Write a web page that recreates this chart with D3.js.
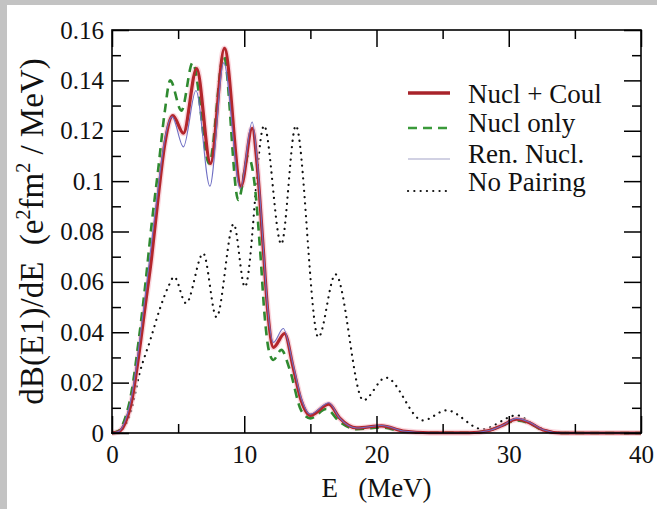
<!DOCTYPE html>
<html>
<head>
<meta charset="utf-8">
<script src="https://cdn.jsdelivr.net/npm/d3@7"></script>
</head>
<body style="margin:0">
<div class="myBox"></div>
<script>

var width = 657;
var height = 509;
var serif = "'Liberation Serif'";

// energies (MeV) and dB/dE values
var nuclCoulE = [0, 0.5, 1, 1.5, 2, 2.5, 3, 3.5, 4, 4.6, 5.4, 6.4, 7.45, 8.5, 9.75, 10.6, 11, 11.4, 11.8, 12.2, 13.05, 13.7, 14.3, 15, 16.4, 17.2, 18.5, 20.4, 22, 24, 27, 28.5, 29.5, 30.6, 31.6, 32.6, 34, 40];
var nuclCoulV = [0, 0.0005, 0.004, 0.013, 0.03, 0.05, 0.07, 0.094, 0.115, 0.126, 0.119, 0.1447, 0.107, 0.1527, 0.098, 0.121, 0.105, 0.076, 0.047, 0.034, 0.0395, 0.026, 0.013, 0.007, 0.0115, 0.006, 0.002, 0.0028, 0.0008, 0.0001, 0.0001, 0.001, 0.003, 0.0055, 0.004, 0.0012, 0, 0];

var nuclOnlyE = [0, 0.5, 1, 1.5, 2, 2.5, 3, 3.5, 4, 4.4, 5.25, 6.1, 7.35, 8.45, 9.55, 10.3, 10.8, 11.2, 11.55, 11.85, 12.2, 12.8, 13.45, 14.3, 15, 16.2, 17.2, 18.5, 20.3, 22, 24, 27, 28.5, 29.5, 30.6, 31.6, 32.6, 34, 40];
var nuclOnlyV = [0, 0.0008, 0.006, 0.017, 0.036, 0.058, 0.083, 0.105, 0.128, 0.14, 0.128, 0.147, 0.107, 0.15, 0.0925, 0.1097, 0.098, 0.0726, 0.046, 0.033, 0.029, 0.033, 0.025, 0.009, 0.0058, 0.0095, 0.0045, 0.0015, 0.0022, 0.0006, 0.0001, 0.0001, 0.001, 0.003, 0.005, 0.0038, 0.001, 0, 0];

var renNuclE = [0, 0.5, 1, 1.5, 2, 2.5, 3, 3.5, 4, 4.55, 5.4, 6.35, 7.4, 8.45, 9.7, 10.6, 11, 11.4, 11.8, 12.2, 12.95, 13.7, 14.3, 15, 16.4, 17.2, 18.5, 20.4, 22, 24, 27, 28.5, 29.5, 30.6, 31.6, 32.6, 34, 40];
var renNuclV = [0, 0.0006, 0.005, 0.015, 0.033, 0.054, 0.076, 0.098, 0.117, 0.1255, 0.1136, 0.136, 0.098, 0.147, 0.097, 0.1235, 0.107, 0.077, 0.048, 0.036, 0.0415, 0.027, 0.014, 0.0075, 0.012, 0.006, 0.002, 0.003, 0.0008, 0.0001, 0.0001, 0.001, 0.003, 0.0058, 0.0042, 0.0013, 0, 0];

var noPairE = [0, 0.5, 1, 1.4, 2.1, 2.9, 3.6, 4.25, 4.7, 5.6, 6.9, 7.9, 9.2, 10.05, 11.5, 12.8, 13.9, 15.6, 16.9, 19, 20.7, 23.5, 25.3, 28, 30.6, 32, 33.5, 35, 40];
var noPairV = [0, 0.0005, 0.003, 0.008, 0.024, 0.037, 0.049, 0.058, 0.062, 0.0515, 0.0713, 0.046, 0.083, 0.058, 0.122, 0.075, 0.122, 0.038, 0.063, 0.013, 0.022, 0.005, 0.009, 0.0015, 0.007, 0.003, 0.0002, 0, 0];

var xTicks = [0, 10, 20, 30, 40];
var xTickLabels = ["0", "10", "20", "30", "40"];
var xMinor = [5, 15, 25, 35];
var yTicks = [0, 0.02, 0.04, 0.06, 0.08, 0.1, 0.12, 0.14, 0.16];
var yTickLabels = ["0", "0.02", "0.04", "0.06", "0.08", "0.1", "0.12", "0.14", "0.16"];
var yMinor = [0.01, 0.03, 0.05, 0.07, 0.09, 0.11, 0.13, 0.15];

var legendLabels = ["Nucl + Coul", "Nucl only", "Ren. Nucl.", "No Pairing"];

var margin = {top: 30, right: 16, bottom: 76, left: 112};
var w = width - margin.left - margin.right;
var h = height - margin.top - margin.bottom;

var svg = d3.select(".myBox")
  .append("svg")
  .attr("width", width)
  .attr("height", height);

// gray strips at the top and left edge of the scan
svg.append("rect").attr("x", 0).attr("y", 0).attr("width", width).attr("height", 5).attr("fill", "#c3c3c3");
svg.append("rect").attr("x", 0).attr("y", 0).attr("width", 7).attr("height", height).attr("fill", "#c3c3c3");

var g = svg.append("g").attr("transform", "translate(" + margin.left + "," + margin.top + ")");

var x = d3.scaleLinear().domain([0, 40]).range([0, w]);
var y = d3.scaleLinear().domain([0, 0.16]).range([h, 0]);

function pts(es, vs) {
  return es.map(function(e, i) { return [e, vs[i]]; });
}

var line = d3.line()
  .x(function(d) { return x(d[0]); })
  .y(function(d) { return y(d[1]); })
  .curve(d3.curveMonotoneX);

var curves = g.append("g");

curves.append("path")
  .attr("d", line(pts(noPairE, noPairV)))
  .attr("fill", "none").attr("stroke", "#111").attr("stroke-width", 2.2)
  .attr("stroke-dasharray", "0.1,6.2").attr("stroke-linecap", "round");

curves.append("path")
  .attr("d", line(pts(nuclCoulE, nuclCoulV)))
  .attr("fill", "none").attr("stroke", "#f6bcc8").attr("stroke-width", 6).attr("stroke-opacity", 0.6);

curves.append("path")
  .attr("d", line(pts(nuclOnlyE, nuclOnlyV)))
  .attr("fill", "none").attr("stroke", "#2f8a30").attr("stroke-width", 2.6)
  .attr("stroke-dasharray", "9,6");

curves.append("path")
  .attr("d", line(pts(nuclCoulE, nuclCoulV)))
  .attr("fill", "none").attr("stroke", "#b3262c").attr("stroke-width", 3.2);

curves.append("path")
  .attr("d", line(pts(renNuclE, renNuclV)))
  .attr("fill", "none").attr("stroke", "#6f6fc4").attr("stroke-width", 1.1);

// axes, ticks pointing inward on all four sides
function styleAxis(sel) {
  sel.attr("font-family", "Liberation Serif").attr("font-size", 25);
  sel.select(".domain").remove();
  sel.selectAll(".tick line").attr("stroke", "#000").attr("stroke-width", 1.5);
  sel.selectAll("text").attr("fill", "#111").style("font-family", serif).style("font-size", "25px");
}

g.append("g").attr("transform", "translate(0," + h + ")")
  .call(d3.axisBottom(x).tickValues(xTicks).tickSize(-17).tickPadding(12)
    .tickFormat(function(d, i) { return xTickLabels[i]; }))
  .call(styleAxis);
g.append("g").attr("transform", "translate(0," + h + ")")
  .call(d3.axisBottom(x).tickValues(xMinor).tickSize(-9).tickFormat(""))
  .call(styleAxis);
g.append("g")
  .call(d3.axisTop(x).tickValues(xTicks).tickSize(-17).tickFormat(""))
  .call(styleAxis);
g.append("g")
  .call(d3.axisTop(x).tickValues(xMinor).tickSize(-9).tickFormat(""))
  .call(styleAxis);

g.append("g")
  .call(d3.axisLeft(y).tickValues(yTicks).tickSize(-17).tickPadding(8)
    .tickFormat(function(d, i) { return yTickLabels[i]; }))
  .call(styleAxis);
g.append("g")
  .call(d3.axisLeft(y).tickValues(yMinor).tickSize(-9).tickFormat(""))
  .call(styleAxis);
g.append("g").attr("transform", "translate(" + w + ",0)")
  .call(d3.axisRight(y).tickValues(yTicks).tickSize(-17).tickFormat(""))
  .call(styleAxis);
g.append("g").attr("transform", "translate(" + w + ",0)")
  .call(d3.axisRight(y).tickValues(yMinor).tickSize(-9).tickFormat(""))
  .call(styleAxis);

g.append("rect")
  .attr("x", 0).attr("y", 0).attr("width", w).attr("height", h)
  .attr("fill", "none").attr("stroke", "#000").attr("stroke-width", 1.6);

// axis titles
svg.append("text")
  .attr("x", margin.left + w / 2).attr("y", 497)
  .attr("text-anchor", "middle").attr("fill", "#111")
  .style("font-family", serif).style("font-size", "27px").style("white-space", "pre")
  .text("E   (MeV)");

var yt = svg.append("text")
  .attr("transform", "translate(43," + (margin.top + h / 2) + ") rotate(-90)")
  .attr("text-anchor", "middle").attr("fill", "#111")
  .style("font-family", serif).style("font-size", "33px").style("white-space", "pre");
yt.append("tspan").text("dB(E1)/dE  (e");
yt.append("tspan").style("font-size", "20px").attr("dy", -13).text("2");
yt.append("tspan").attr("dy", 13).text("fm");
yt.append("tspan").style("font-size", "20px").attr("dy", -13).text("2");
yt.append("tspan").attr("dy", 13).text(" / MeV)");

// legend
var legY = [93, 128, 159, 191];
var legTextY = [103, 132, 163, 191];
var leg = svg.append("g");
var legStyles = [
  {stroke: "#a8232a", width: 3.5, dash: null},
  {stroke: "#3a9a3a", width: 2.6, dash: "9,6"},
  {stroke: "#a4a4c8", width: 1.2, dash: null},
  {stroke: "#111", width: 2.2, dash: "0.1,6.2"}
];
legendLabels.forEach(function(lbl, i) {
  var s = legStyles[i];
  leg.append("line")
    .attr("x1", 408).attr("x2", 450).attr("y1", legY[i]).attr("y2", legY[i])
    .attr("stroke", s.stroke).attr("stroke-width", s.width)
    .attr("stroke-dasharray", s.dash).attr("stroke-linecap", s.dash && s.dash.indexOf("0.1") === 0 ? "round" : "butt");
  leg.append("text")
    .attr("x", 468).attr("y", legTextY[i]).attr("fill", "#111")
    .style("font-family", serif).style("font-size", "27px")
    .text(lbl);
});

</script>
</body>
</html>
